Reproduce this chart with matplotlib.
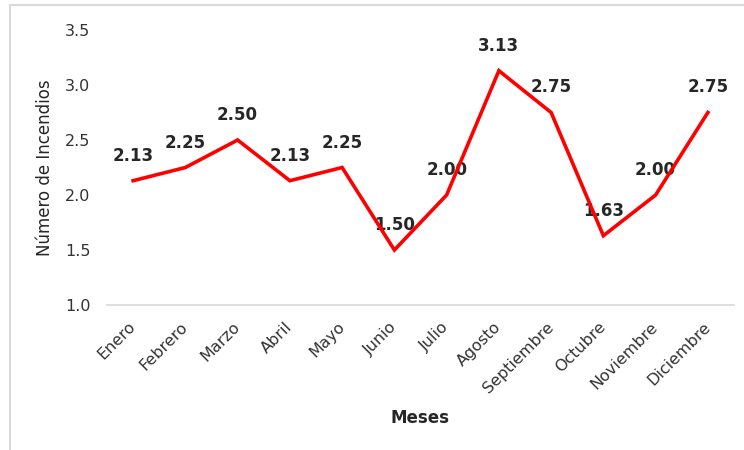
import numpy as np
import matplotlib.pyplot as plt
from matplotlib.patches import Rectangle
from matplotlib.transforms import ScaledTranslation

meses = ['Enero', 'Febrero', 'Marzo', 'Abril', 'Mayo', 'Junio', 'Julio',
         'Agosto', 'Septiembre', 'Octubre', 'Noviembre', 'Diciembre']
incendios = [2.13, 2.25, 2.50, 2.13, 2.25, 1.50, 2.00, 3.13, 2.75, 1.63, 2.00, 2.75]
yticks = [1.0, 1.5, 2.0, 2.5, 3.0, 3.5]


def main():
    fig = plt.figure(figsize=(7.44, 4.5), dpi=100)
    ax = fig.add_axes([107 / 744, 145 / 450, 627 / 744, 275 / 450])

    # light border around the chart area (cut on right and bottom)
    fig.patches.append(Rectangle((10 / 744, -0.05), 1.0, (445 / 450) + 0.05,
                                 transform=fig.transFigure, fill=False,
                                 edgecolor='#d9d9d9', linewidth=1.5))

    x = np.arange(len(meses))
    ax.plot(x, incendios, color='#ff0000', linewidth=2.6, zorder=4,
            solid_joinstyle='miter')
    for xi, v in zip(x, incendios):
        ax.annotate('%.2f' % v, (xi, v), xytext=(0, 18),
                    textcoords='offset points', ha='center', va='center',
                    fontsize=12, fontweight='bold', color='#262626', zorder=3)

    ax.set_xlim(-0.5, len(meses) - 0.5)
    ax.set_ylim(1.0, 3.5)
    ax.set_yticks(yticks)
    ax.set_yticklabels(['%.1f' % t for t in yticks])
    ax.set_xticks(x)
    ax.set_xticklabels(meses, rotation=45, ha='right', va='center',
                       rotation_mode='anchor')
    offset = ScaledTranslation(5 / 72, 1.5 / 72, fig.dpi_scale_trans)
    for lbl in ax.get_xticklabels():
        lbl.set_transform(lbl.get_transform() + offset)

    ax.tick_params(axis='both', length=0, labelsize=11.5, colors='#333333')
    ax.tick_params(axis='x', pad=14)
    ax.tick_params(axis='y', pad=12)
    for s in ['top', 'right', 'left']:
        ax.spines[s].set_visible(False)
    ax.spines['bottom'].set_color('#d9d9d9')
    ax.spines['bottom'].set_linewidth(1.2)

    ax.set_ylabel('Número de Incendios', fontsize=12, color='#262626', labelpad=8)
    ax.set_xlabel('Meses', fontsize=12, fontweight='bold', color='#262626',
                  labelpad=10)

    fig.savefig('out.png', dpi=100)


if __name__ == '__main__':
    main()
